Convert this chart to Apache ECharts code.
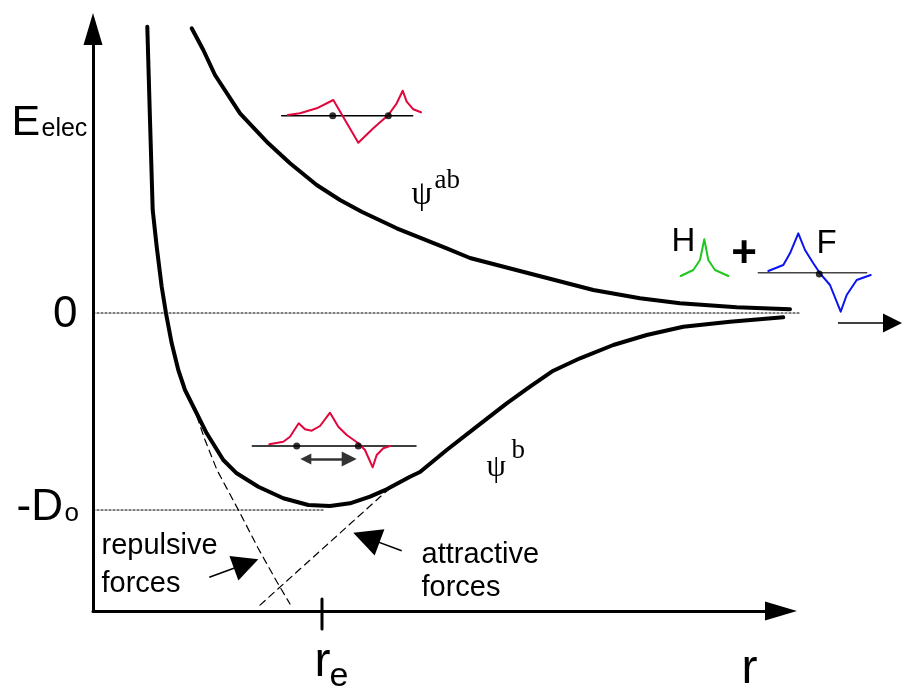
<!DOCTYPE html>
<html>
<head>
<meta charset="utf-8">
<script src="https://cdn.jsdelivr.net/npm/echarts@6/dist/echarts.min.js"></script>
<style>
  html, body { margin: 0; padding: 0; background: #fff; }
  #chart { width: 902px; height: 690px; }
</style>
</head>
<body>
<div id="chart"></div>
<script>
// r on x, E_elec on y (0 = separated H + F, -197 = -D0)
const rRange = [0, 688]
const eRange = [-298, 284]
const dissociation = -197
const rEquilibrium = 229

// potential curves
const antibonding = [
  [98.7, 284.7], [110.3, 263], [122, 238], [147, 199.7], [175.3, 169.7], [197, 149.7],
  [223.7, 128], [247, 113], [268.7, 101.3], [303.7, 84.7], [353.7, 64.7], [377, 55],
  [427, 42], [500.3, 23], [547, 14.7], [587, 9.7], [643.7, 5.7], [697, 3.7]
]
const bonding = [
  [54.3, 286.3], [57, 193], [59.7, 103], [63.7, 66.3], [68.7, 26.3], [73, -0.3],
  [78.7, -30.3], [85.3, -57], [92, -77], [102, -97], [113.7, -120.3], [130.3, -147],
  [143.7, -160.3], [165.3, -173.7], [190.3, -185.3], [215.3, -192], [237, -193],
  [257, -190.3], [277, -183.7], [293.7, -176.3], [317, -163.7], [327, -159],
  [353.7, -137], [383.7, -113.7], [413.7, -90.3], [437, -73.7], [460.3, -57.7],
  [487, -45.3], [520.3, -32], [553.7, -22], [590.3, -13.7], [637, -8.7], [690.3, -4.3]
]
const repulsive = [[100, -92], [112, -127], [124, -157], [147, -200], [165, -235], [184, -269], [197, -291]]
const attractive = [[297, -175], [166, -293]]
const zeroLevel = [[0, 0], [707, 0]]
const d0Level = [[0, dissociation], [232, dissociation]]

// small orbital sketches
const abAxis = [[188.7, 197.3], [319.7, 197.3]]
const abWave = [
  [194.7, 198], [207, 199.7], [223.7, 204.7], [240.3, 213], [265.3, 170.3], [280.3, 184.7],
  [295.3, 198], [303.7, 209.7], [309.7, 222.3], [313.7, 211.3], [320.3, 203.7], [328, 200.7]
]
const bAxis = [[159.3, -133], [323, -133]]
const bWave = [
  [176.3, -131.3], [190.3, -128.7], [197, -123.7], [205.7, -110.3], [212, -116.3],
  [218.7, -117.7], [227, -113], [237, -99.7], [245.3, -113.7], [253.7, -122],
  [265.3, -130.3], [272, -137], [279.7, -154.3], [283.7, -142], [290.3, -135.3], [297, -133]
]
const nuclei = [[239.7, 197.3], [295.3, 197.3], [203.7, -133], [265.3, -133], [726.3, 39]]
const hOrbital = [[587.7, 37], [600.3, 43], [607, 53], [611.3, 73.7], [615.3, 53], [622, 43], [635.3, 37]]
const fAxis = [[665.3, 40.3], [773.7, 40.3]]
const fOrbital = [
  [675.3, 42], [690.3, 48], [697, 59.7], [705.3, 79.7], [712, 63], [720.3, 49.7],
  [727, 39.7], [737, 28], [747.7, 1.3], [753.7, 18], [763.7, 33], [777.7, 38]
]

// arrows: [tail, head]
const bondArrow = [[212.8, -146], [256.2, -146]]
const repulsiveArrow = [[116.3, -264.3], [153.1, -250.8]]
const attractiveArrow = [[308.7, -237.7], [273.4, -224.6]]
const infinityArrow = [[745, -10], [799.5, -10]]
const reTick = [[rEquilibrium, -286], [rEquilibrium, -316]]

const SANS = '"Liberation Sans", Arial, sans-serif'
const SERIF = '"Liberation Serif", "Times New Roman", serif'

const labels = [
  { text: 'E', at: [-81, 189], size: 43 },
  { text: 'elec', at: [-51, 183], size: 25 },
  { text: '0', at: [-15, -2.5], size: 44, align: 'right' },
  { text: '-D', at: [-76, -195.5], size: 44 },
  { text: 'o', at: [-28, -201.4], size: 26 },
  { text: 'r', at: [222, -350], size: 48 },
  { text: 'e', at: [237, -364], size: 34 },
  { text: 'r', at: [649, -357], size: 48 },
  { text: 'ψ', at: [319, 117], size: 33, font: SERIF },
  { text: 'ab', at: [342, 132], size: 27, font: SERIF },
  { text: 'ψ', at: [394, -155], size: 31, font: SERIF },
  { text: 'b', at: [419, -138], size: 27, font: SERIF },
  { text: 'repulsive\nforces', at: [9, -252], size: 29, lineHeight: 38 },
  { text: 'attractive\nforces', at: [329, -258.7], size: 29, lineHeight: 33 },
  { text: 'H', at: [579, 71], size: 33 },
  { text: '+', at: [651.5, 58], size: 44, align: 'center', weight: 'bold' },
  { text: 'F', at: [724, 69], size: 33 }
]

// polylines drawn with the lines series so nothing is clipped at the grid edge
const path = (data, color, width, type = 'solid') => ({
  type: 'lines',
  coordinateSystem: 'cartesian2d',
  polyline: true,
  clip: false,
  silent: true,
  animation: false,
  lineStyle: { color, width, type, opacity: 1, cap: 'round', join: 'round' },
  data: [{ coords: data }]
})

const arrow = (pairs, color, width, size, both = false) => ({
  type: 'lines',
  coordinateSystem: 'cartesian2d',
  clip: false,
  silent: true,
  animation: false,
  symbol: both ? ['triangle', 'triangle'] : ['none', 'triangle'],
  symbolSize: size,
  lineStyle: { color, width, opacity: 1 },
  data: pairs.map(coords => ({ coords }))
})

const axisBase = {
  type: 'value',
  axisLine: {
    show: true,
    onZero: false,
    symbol: ['none', 'triangle'],
    symbolSize: [19, 32],
    lineStyle: { color: '#000', width: 3 }
  },
  axisTick: { show: false },
  axisLabel: { show: false },
  splitLine: { show: false }
}

const chart = echarts.init(document.getElementById('chart'))
chart.setOption({
  animation: false,
  backgroundColor: '#fff',
  grid: { left: 93, right: 121, top: 29, bottom: 79 },
  xAxis: { ...axisBase, min: rRange[0], max: rRange[1] },
  yAxis: { ...axisBase, min: eRange[0], max: eRange[1] },
  series: [
    path(zeroLevel, '#000', 1.2, [2, 2]),
    path(d0Level, '#000', 1.2, [2, 2]),
    path(repulsive, '#000', 1.2, [7, 5]),
    path(attractive, '#000', 1.2, [7, 5]),
    path(antibonding, '#000', 4),
    path(bonding, '#000', 4),
    path(abAxis, '#000', 1.5),
    path(abWave, '#e1063c', 2),
    path(bAxis, '#000', 1.5),
    path(bWave, '#e1063c', 2),
    path(hOrbital, '#1ec81e', 2),
    path(fAxis, '#444', 1.5),
    path(fOrbital, '#0a14f0', 2),
    path(reTick, '#000', 3),
    {
      type: 'scatter',
      data: nuclei,
      clip: false,
      silent: true,
      symbolSize: 7,
      itemStyle: { color: '#000' }
    },
    arrow([bondArrow], '#333', 2.5, [11, 15], true),
    arrow([repulsiveArrow], '#000', 1.5, [17, 26]),
    arrow([attractiveArrow], '#000', 1.5, [18, 28]),
    arrow([infinityArrow], '#000', 1.5, [14, 19]),
    {
      type: 'scatter',
      clip: false,
      silent: true,
      symbolSize: 1,
      itemStyle: { color: 'rgba(0,0,0,0)' },
      data: labels.map(l => ({
        value: l.at,
        label: {
          show: true,
          formatter: l.text,
          position: [0, 0],
          align: l.align || 'left',
          verticalAlign: 'middle',
          color: '#000',
          opacity: 1,
          textBorderWidth: 0,
          fontSize: l.size,
          fontFamily: l.font || SANS,
          fontWeight: l.weight || 'normal',
          lineHeight: l.lineHeight || l.size
        }
      }))
    }
  ]
})
</script>
</body>
</html>
